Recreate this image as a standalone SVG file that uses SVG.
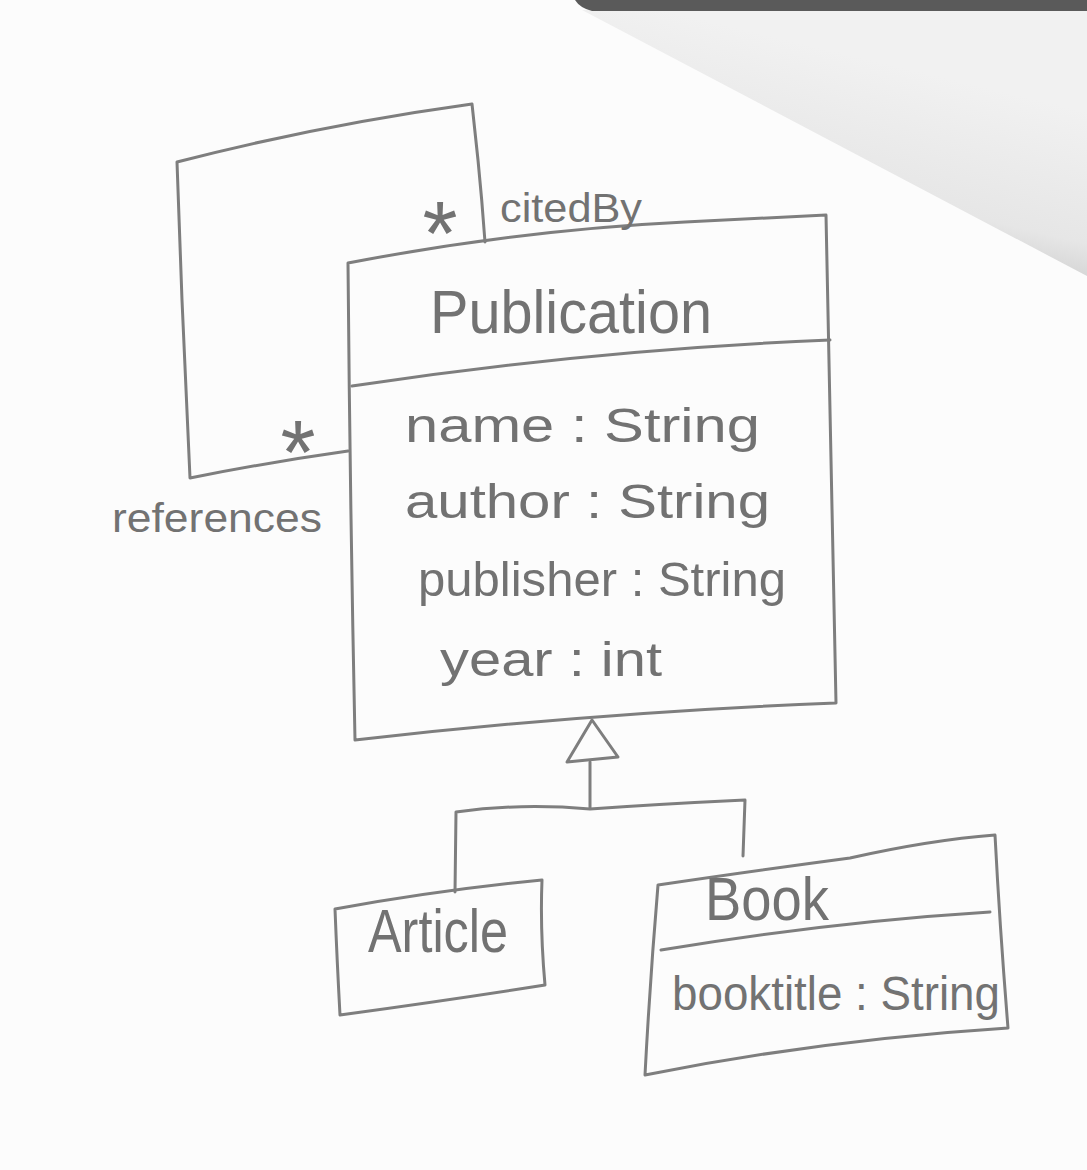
<svg xmlns="http://www.w3.org/2000/svg" width="1087" height="1170" viewBox="0 0 1087 1170">
  <defs>
    <linearGradient id="foldGrad" x1="0.35" y1="0.75" x2="0.6" y2="0.2">
      <stop offset="0" stop-color="#d2d2d2"/>
      <stop offset="0.25" stop-color="#e6e6e6"/>
      <stop offset="1" stop-color="#f1f1f1"/>
    </linearGradient>
    <style>
      .pen { fill: none; stroke: #7e7e7e; stroke-width: 3; stroke-linecap: round; stroke-linejoin: round; }
      .hand { font-family: "Liberation Sans", "DejaVu Sans", sans-serif; fill: #727272; }
      .title { font-size: 62px; }
      .attr { font-size: 48px; }
      .lbl { font-size: 40px; }
      .star { font-size: 90px; text-anchor: middle; }
    </style>
  </defs>

  <!-- paper -->
  <rect x="0" y="0" width="1087" height="1170" fill="#fcfcfc"/>
  <!-- folded corner -->
  <g id="paper-fold">
    <polygon points="582,10 1087,10 1087,276" fill="url(#foldGrad)"/>
    <path d="M575,0 L1087,0 L1087,11 L592,11 Q580,8 575,0 Z" fill="#5a5a5a"/>
  </g>

  <!-- connectors -->
  <g id="connectors">
    <!-- self association citedBy / references -->
    <path class="pen" d="M485,242 Q482,200 478,160 L472,104 Q320,125 177,162 L182,300 L190,478 Q270,462 348,451"/>
    <!-- generalization -->
    <path class="pen" d="M590,762 L590,808"/>
    <path class="pen" d="M455,892 L456,812 Q520,803 590,809 Q660,804 745,800 L743,856"/>
    <polygon class="pen" fill="#fcfcfc" points="592,720 567,762 618,757"/>
  </g>

  <!-- Publication -->
  <g id="node-publication">
    <path class="pen" d="M348,263 Q520,230 685,222 L826,215 Q832,460 836,703 Q600,712 355,740 Q350,500 348,263 Z"/>
    <path class="pen" d="M352,386 Q590,350 830,340"/>
    <text class="hand title" x="430" y="333" textLength="282" lengthAdjust="spacingAndGlyphs">Publication</text>
    <text class="hand attr" x="405" y="442" textLength="355" lengthAdjust="spacingAndGlyphs">name : String</text>
    <text class="hand attr" x="405" y="518" textLength="365" lengthAdjust="spacingAndGlyphs">author : String</text>
    <text class="hand attr" x="418" y="596" textLength="368" lengthAdjust="spacingAndGlyphs">publisher : String</text>
    <text class="hand attr" x="440" y="676" textLength="222" lengthAdjust="spacingAndGlyphs">year : int</text>
  </g>

  <!-- association labels -->
  <g id="labels">
    <text class="hand lbl" x="500" y="222" textLength="142" lengthAdjust="spacingAndGlyphs">citedBy</text>
    <text class="hand star" x="440" y="265">*</text>
    <text class="hand star" x="298" y="484">*</text>
    <text class="hand lbl" x="112" y="532" textLength="210" lengthAdjust="spacingAndGlyphs">references</text>
  </g>

  <!-- Article -->
  <g id="node-article">
    <path class="pen" d="M335,909 Q440,890 542,880 Q540,930 545,985 Q450,1000 340,1015 Q337,960 335,909 Z"/>
    <text class="hand title" x="368" y="952" textLength="140" lengthAdjust="spacingAndGlyphs">Article</text>
  </g>

  <!-- Book -->
  <g id="node-book">
    <path class="pen" d="M658,885 Q760,870 850,858 Q930,840 995,835 Q1000,930 1008,1028 Q820,1040 645,1075 Q650,980 658,885 Z"/>
    <path class="pen" d="M661,950 Q830,922 990,912"/>
    <text class="hand title" x="705" y="920" font-size="56" textLength="124" lengthAdjust="spacingAndGlyphs">Book</text>
    <text class="hand attr" x="672" y="1010" textLength="328" lengthAdjust="spacingAndGlyphs">booktitle : String</text>
  </g>
</svg>
